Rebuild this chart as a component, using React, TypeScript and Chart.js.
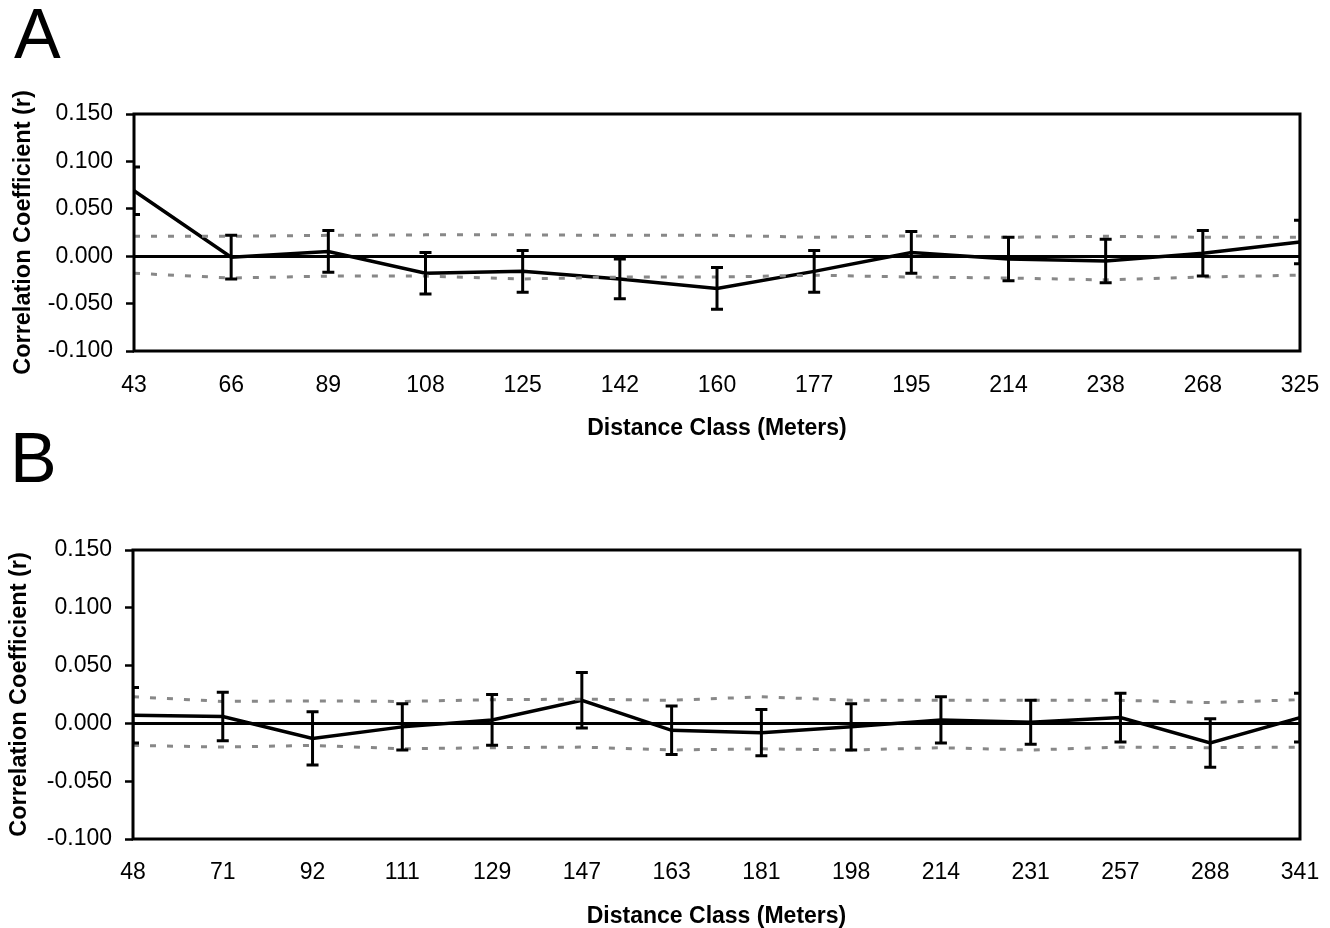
import React, { useEffect, useRef } from "react";
import { Chart, registerables } from "chart.js";

Chart.register(...registerables);

// ---------- Panel A data ----------
const labelsA = ["43", "66", "89", "108", "125", "142", "160", "177", "195", "214", "238", "268", "325"];
const valuesA = [0.069, -0.001, 0.005, -0.018, -0.016, -0.024, -0.034, -0.016, 0.004, -0.003, -0.005, 0.003, 0.015];
const errorsA = [0.025, 0.023, 0.022, 0.022, 0.022, 0.021, 0.022, 0.022, 0.022, 0.023, 0.023, 0.024, 0.023];
const upperA = [0.021, 0.021, 0.022, 0.0225, 0.0225, 0.022, 0.022, 0.02, 0.0215, 0.02, 0.021, 0.02, 0.02];
const lowerA = [-0.018, -0.023, -0.021, -0.021, -0.024, -0.022, -0.022, -0.02, -0.022, -0.023, -0.025, -0.022, -0.02];

// ---------- Panel B data ----------
const labelsB = ["48", "71", "92", "111", "129", "147", "163", "181", "198", "214", "231", "257", "288", "341"];
const valuesB = [0.007, 0.006, -0.013, -0.003, 0.003, 0.02, -0.006, -0.008, -0.003, 0.003, 0.001, 0.005, -0.017, 0.005];
const errorsB = [0.024, 0.021, 0.023, 0.02, 0.022, 0.024, 0.021, 0.02, 0.02, 0.02, 0.019, 0.021, 0.021, 0.021];
const upperB = [0.023, 0.019, 0.0195, 0.019, 0.0205, 0.021, 0.02, 0.023, 0.02, 0.02, 0.02, 0.02, 0.018, 0.0205];
const lowerB = [-0.019, -0.0205, -0.019, -0.022, -0.021, -0.0205, -0.023, -0.022, -0.023, -0.021, -0.023, -0.0205, -0.021, -0.0205];

const yTicks = [-0.1, -0.05, 0, 0.05, 0.1, 0.15];
const yTitle = "Correlation Coefficient (r)";
const xTitle = "Distance Class (Meters)";

const FONT = "'Liberation Sans', Arial, Helvetica, sans-serif";

type PanelProps = {
  top: number;
  height: number;
  labels: string[];
  values: number[];
  errors: number[];
  upper: number[];
  lower: number[];
  padTop: number;
  axisWidth: number;
  yTitlePad: number;
  xTickPad: number;
};

function Panel(p: PanelProps) {
  const ref = useRef<HTMLCanvasElement | null>(null);

  useEffect(() => {
    if (!ref.current) return;
    const errPlugin = {
      id: "errbarsAndFrame",
      afterDatasetsDraw(chart: any) {
        const { ctx, chartArea, scales } = chart;
        const xs = scales.x;
        const ys = scales.y;
        ctx.save();
        ctx.beginPath();
        ctx.rect(chartArea.left, chartArea.top, chartArea.right - chartArea.left, chartArea.bottom - chartArea.top);
        ctx.clip();
        ctx.strokeStyle = "#000";
        ctx.lineWidth = 3;
        ctx.lineCap = "butt";
        p.values.forEach((v, i) => {
          const x = xs.getPixelForValue(i);
          const yHi = ys.getPixelForValue(v + p.errors[i]);
          const yLo = ys.getPixelForValue(v - p.errors[i]);
          ctx.beginPath();
          ctx.moveTo(x, yHi);
          ctx.lineTo(x, yLo);
          ctx.moveTo(x - 6, yHi);
          ctx.lineTo(x + 6, yHi);
          ctx.moveTo(x - 6, yLo);
          ctx.lineTo(x + 6, yLo);
          ctx.stroke();
        });
        ctx.restore();
        ctx.save();
        ctx.strokeStyle = "#000";
        ctx.lineWidth = 3;
        ctx.strokeRect(chartArea.left, chartArea.top, chartArea.right - chartArea.left, chartArea.bottom - chartArea.top);
        ctx.restore();
      },
    };

    const chart = new Chart(ref.current, {
      type: "line",
      data: {
        labels: p.labels,
        datasets: [
          {
            label: "upper",
            data: p.upper,
            borderColor: "#888",
            borderWidth: 3,
            borderDash: [6, 11],
            pointRadius: 0,
            fill: false,
            tension: 0,
          },
          {
            label: "lower",
            data: p.lower,
            borderColor: "#888",
            borderWidth: 3,
            borderDash: [6, 11],
            pointRadius: 0,
            fill: false,
            tension: 0,
          },
          {
            label: "r",
            data: p.values,
            borderColor: "#000",
            borderWidth: 3.5,
            pointRadius: 0,
            fill: false,
            tension: 0,
          },
        ],
      },
      options: {
        animation: false,
        responsive: false,
        devicePixelRatio: 1,
        layout: { padding: { top: p.padTop, right: 30, left: 0, bottom: 0 } },
        plugins: {
          legend: { display: false },
          tooltip: { enabled: false },
          title: { display: false },
        },
        scales: {
          x: {
            type: "category",
            offset: false,
            grid: { display: false, drawTicks: false },
            border: { display: false },
            ticks: {
              color: "#000",
              font: { family: FONT, size: 23 },
              padding: p.xTickPad,
              maxRotation: 0,
              autoSkip: false,
            },
            title: {
              display: true,
              text: xTitle,
              color: "#000",
              font: { family: FONT, size: 23, weight: "bold", lineHeight: 1 },
              padding: { top: 0, bottom: 0 },
            },
            afterFit: (s: any) => {
              s.height = 89;
              s.paddingLeft = 0;
              s.paddingRight = 0;
            },
          },
          y: {
            min: -0.1,
            max: 0.15,
            afterBuildTicks: (s: any) => {
              s.ticks = yTicks.map((v) => ({ value: v }));
            },
            grid: {
              drawOnChartArea: true,
              drawTicks: true,
              tickLength: 8,
              tickColor: "#000",
              tickWidth: 2.5,
              lineWidth: 3,
              color: (c: any) => (c.tick && Math.abs(c.tick.value) < 1e-9 ? "#000" : "rgba(0,0,0,0)"),
            },
            border: { display: false },
            ticks: {
              color: "#000",
              font: { family: FONT, size: 23 },
              padding: 13,
              callback: (v: any) => Number(v).toFixed(3),
            },
            title: {
              display: true,
              text: yTitle,
              color: "#000",
              font: { family: FONT, size: 23.5, weight: "bold", lineHeight: 1.2 },
              padding: { top: p.yTitlePad, bottom: 0 },
            },
            afterFit: (s: any) => {
              s.width = p.axisWidth;
              s.paddingTop = 0;
              s.paddingBottom = 0;
            },
          },
        },
      },
      plugins: [errPlugin],
    } as any);

    return () => chart.destroy();
  }, []);

  return (
    <canvas
      ref={ref}
      width={1330}
      height={p.height}
      style={{ position: "absolute", left: 0, top: p.top, width: 1330, height: p.height }}
    />
  );
}

const letterStyle: React.CSSProperties = {
  position: "absolute",
  fontFamily: FONT,
  fontSize: 70,
  lineHeight: "70px",
  color: "#000",
  zIndex: 2,
};

export default function App() {
  return (
    <div style={{ position: "absolute", left: 0, top: 0, width: 1330, height: 928, background: "#fff", overflow: "hidden" }}>
      <Panel
        top={0}
        height={440}
        labels={labelsA}
        values={valuesA}
        errors={errorsA}
        upper={upperA}
        lower={lowerA}
        padTop={114}
        axisWidth={134}
        yTitlePad={9}
        xTickPad={21}
      />
      <Panel
        top={440}
        height={488}
        labels={labelsB}
        values={valuesB}
        errors={errorsB}
        upper={upperB}
        lower={lowerB}
        padTop={110}
        axisWidth={133}
        yTitlePad={5}
        xTickPad={20}
      />
      <div style={{ ...letterStyle, left: 14, top: -1 }}>A</div>
      <div style={{ ...letterStyle, left: 10, top: 423 }}>B</div>
    </div>
  );
}
